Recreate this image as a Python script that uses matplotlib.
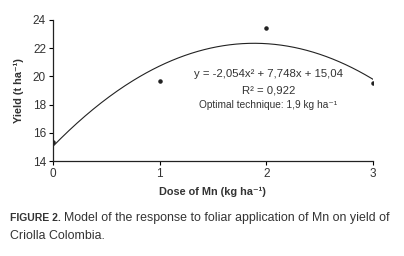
import numpy as np
import matplotlib
matplotlib.use("Agg")
import matplotlib.pyplot as plt

dose = [0, 1, 2, 3]
yield_obs = [15.35, 19.7, 23.4, 19.5]
coef = [-2.054, 7.748, 15.04]  # fitted model from the chart
x_ticks = [0, 1, 2, 3]
y_ticks = [14, 16, 18, 20, 22, 24]

plt.rcParams['font.family'] = ['Liberation Sans', 'DejaVu Sans']
txt = '#333333'

fig = plt.figure(figsize=(4.04, 2.56), dpi=100)
ax = fig.add_axes([0.131, 0.371, 0.792, 0.551])

xx = np.linspace(0, 3, 200)
ax.plot(xx, np.polyval(coef, xx), color='#222222', lw=0.8)
ax.scatter(dose, yield_obs, s=5, color='#222222', zorder=3)

ax.set_xlim(0, 3)
ax.set_ylim(14, 24)
ax.set_xticks(x_ticks)
ax.set_yticks(y_ticks)
ax.spines['top'].set_visible(False)
ax.spines['right'].set_visible(False)
for s in ['left', 'bottom']:
    ax.spines[s].set_linewidth(0.9)
    ax.spines[s].set_color('#222222')
ax.tick_params(direction='out', length=3, width=0.8, labelsize=8.5, labelcolor=txt, pad=2)
ax.set_xlabel('Dose of Mn (kg ha⁻¹)', fontsize=7.8, fontweight='bold', color=txt, labelpad=5)
ax.set_ylabel('Yield (t ha⁻¹)', fontsize=7.8, fontweight='bold', color=txt, labelpad=6)

ax.text(2.02, 20.15, 'y = -2,054x² + 7,748x + 15,04', ha='center', va='center', fontsize=8.2, color=txt)
ax.text(2.02, 19.0, 'R² = 0,922', ha='center', va='center', fontsize=8.2, color=txt)
ax.text(2.02, 18.0, 'Optimal technique: 1,9 kg ha⁻¹', ha='center', va='center', fontsize=7.3, color=txt)

t1 = fig.text(10 / 404, 1 - 218 / 256, 'FIGURE 2.', fontsize=7.5, fontweight='bold', color=txt, va='center')
fig.canvas.draw()
bb = t1.get_window_extent()
fig.text((bb.x1 + 3) / 404, 1 - 218 / 256, 'Model of the response to foliar application of Mn on yield of',
         fontsize=8.9, color=txt, va='center')
fig.text(10 / 404, 1 - 236 / 256, 'Criolla Colombia.', fontsize=8.9, color=txt, va='center')

fig.savefig('out.png', dpi=100)
